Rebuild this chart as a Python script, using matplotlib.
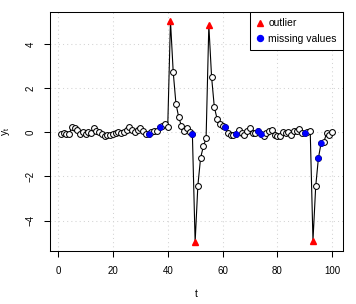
import numpy as np
import matplotlib
matplotlib.use("Agg")
from matplotlib import pyplot as plt
from matplotlib.lines import Line2D

plt.rcParams['font.family'] = ['Liberation Sans', 'DejaVu Sans']
plt.rcParams['mathtext.fontset'] = 'custom'
plt.rcParams['mathtext.rm'] = 'Liberation Sans'

t = np.arange(1, 101)
y = [-0.06, -0.03, -0.08, -0.08, 0.24, 0.20, 0.12, -0.06, 0.00, -0.06,
     0.03, -0.03, 0.21, 0.05, 0.01, -0.08, -0.18, -0.12, -0.12, -0.06,
     -0.03, 0.00, -0.01, 0.00, 0.09, 0.23, 0.09, 0.01, 0.09, 0.18,
     0.06, -0.09, -0.06, 0.00, 0.06, 0.05, 0.23, 0.27, 0.39, 0.24,
     5.06, 2.74, 1.30, 0.70, 0.29, 0.06, 0.20, 0.02, -0.09, -4.98,
     -2.41, -1.15, -0.64, -0.26, 4.86, 2.52, 1.15, 0.62, 0.36, 0.28,
     0.23, -0.03, -0.11, -0.14, -0.08, 0.09, -0.03, -0.12, 0.08, 0.18,
     -0.03, -0.05, 0.08, -0.08, -0.17, -0.03, 0.06, 0.09, -0.14, -0.15,
     -0.18, 0.01, -0.03, 0.03, -0.11, 0.05, 0.05, 0.15, -0.01, -0.03,
     0.00, 0.05, -4.91, -2.45, -1.15, -0.47, -0.42, -0.03, -0.11, 0.01]
outlier_t = [41, 50, 55, 93]
missing_t = [33, 37, 49, 61, 65, 73, 74, 90, 95, 96]

y = np.array(y)
outlier_y = y[np.array(outlier_t) - 1]
missing_y = y[np.array(missing_t) - 1]
normal = ~np.isin(t, outlier_t)

fig = plt.figure(figsize=(3.56, 3.04), dpi=100)
ax = fig.add_axes([50/356, 1-251/304, 293/356, 239/304])

# grid like R grid()
for xv in [0, 20, 40, 60, 80, 100]:
    ax.axvline(xv, color='#d3d3d3', lw=0.75, ls=(0, (1, 3)), zorder=0)
for yv in [-4, -2, 0, 2, 4]:
    ax.axhline(yv, color='#d3d3d3', lw=0.75, ls=(0, (1, 3)), zorder=0)

ax.plot(t, y, color='black', lw=0.8, zorder=1)
ax.plot(t[normal], y[normal], 'o', ms=4.2, mfc='white', mec='black', mew=0.75, zorder=2)
ax.plot(outlier_t, outlier_y, '^', ms=5, color='red', mec='red', zorder=3)
ax.plot(missing_t, missing_y, 'o', ms=4.3, color='blue', mec='blue', mew=0.3, zorder=3)

ax.set_xlim(1 - 0.04*99, 100 + 0.04*99)
ax.set_ylim(-4.98 - 0.04*10.04, 5.06 + 0.04*10.04)
ax.set_xticks([0, 20, 40, 60, 80, 100])
ax.set_yticks([-4, -2, 0, 2, 4])
ax.tick_params(direction='out', length=4.5, width=0.75, labelsize=7, pad=6)
for lab in ax.get_yticklabels():
    lab.set_rotation(90)
    lab.set_va('center')
for s in ax.spines.values():
    s.set_linewidth(0.75)

ax.set_xlabel('t', fontsize=7.5, labelpad=10)
ax.set_ylabel(r'$\mathregular{y_t}$', fontsize=7.5, labelpad=10)

handles = [Line2D([], [], marker='^', ls='', color='red', ms=5),
           Line2D([], [], marker='o', ls='', color='blue', ms=4.3)]
leg = ax.legend(handles, ['outlier', 'missing values'], loc='upper right',
                fontsize=7.5, borderaxespad=0, fancybox=False, framealpha=1,
                edgecolor='black', handlelength=0.8, handletextpad=0.35,
                borderpad=0.6, labelspacing=0.55)
leg.get_frame().set_linewidth(0.75)

fig.savefig('out.png', dpi=100)
